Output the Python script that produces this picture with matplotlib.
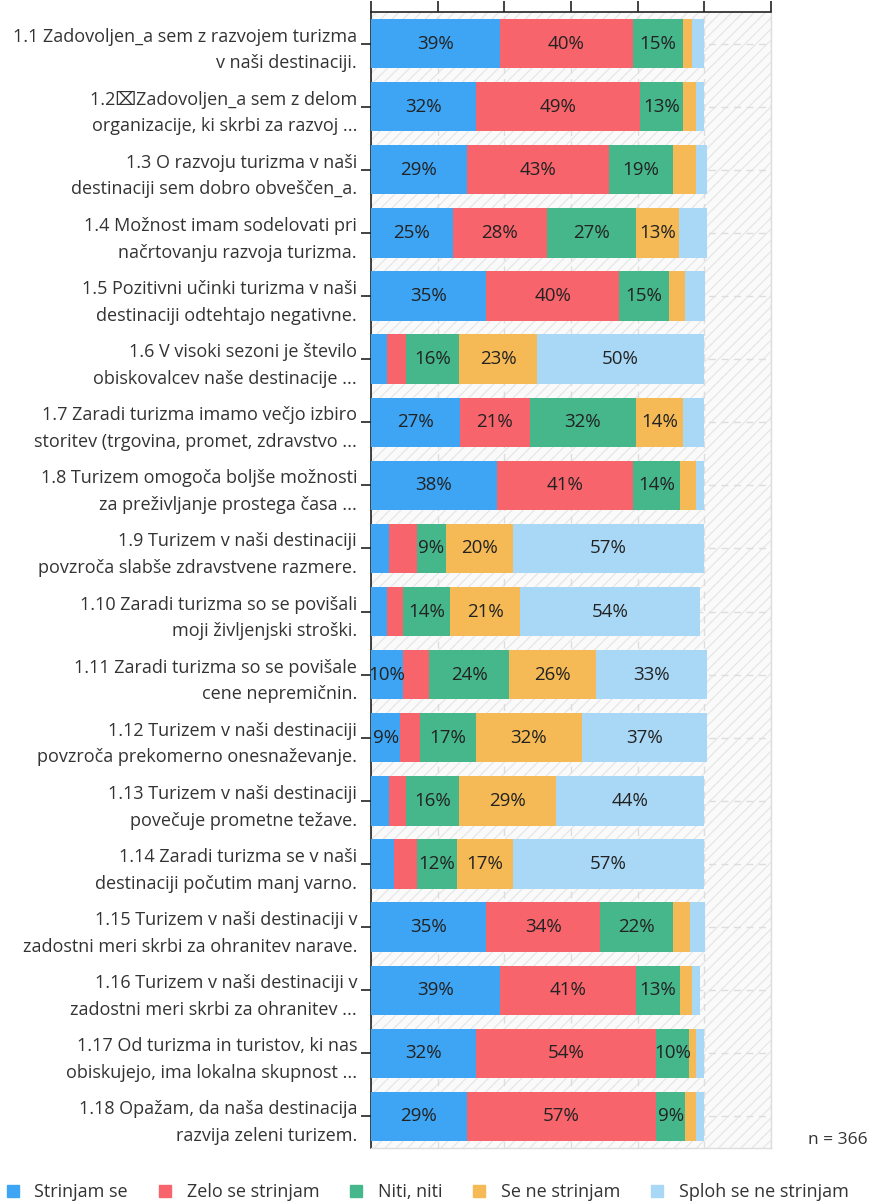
import matplotlib
matplotlib.use("Agg")
import matplotlib.pyplot as plt
from matplotlib.patches import Rectangle
from matplotlib.lines import Line2D
import numpy as np

plt.rcParams['font.family'] = ['Open Sans', 'DejaVu Sans']
plt.rcParams['hatch.linewidth'] = 0.8

categories = [
    "1.1 Zadovoljen_a sem z razvojem turizma\nv naši destinaciji.",
    "1.2\u2327Zadovoljen_a sem z delom\norganizacije, ki skrbi za razvoj ...",
    "1.3 O razvoju turizma v naši\ndestinaciji sem dobro obveščen_a.",
    "1.4 Možnost imam sodelovati pri\nnačrtovanju razvoja turizma.",
    "1.5 Pozitivni učinki turizma v naši\ndestinaciji odtehtajo negativne.",
    "1.6 V visoki sezoni je število\nobiskovalcev naše destinacije ...",
    "1.7 Zaradi turizma imamo večjo izbiro\nstoritev (trgovina, promet, zdravstvo ...",
    "1.8 Turizem omogoča boljše možnosti\nza preživljanje prostega časa ...",
    "1.9 Turizem v naši destinaciji\npovzroča slabše zdravstvene razmere.",
    "1.10 Zaradi turizma so se povišali\nmoji življenjski stroški.",
    "1.11 Zaradi turizma so se povišale\ncene nepremičnin.",
    "1.12 Turizem v naši destinaciji\npovzroča prekomerno onesnaževanje.",
    "1.13 Turizem v naši destinaciji\npovečuje prometne težave.",
    "1.14 Zaradi turizma se v naši\ndestinaciji počutim manj varno.",
    "1.15 Turizem v naši destinaciji v\nzadostni meri skrbi za ohranitev narave.",
    "1.16 Turizem v naši destinaciji v\nzadostni meri skrbi za ohranitev ...",
    "1.17 Od turizma in turistov, ki nas\nobiskujejo, ima lokalna skupnost ...",
    "1.18 Opažam, da naša destinacija\nrazvija zeleni turizem.",
]

series_names = ["Strinjam se", "Zelo se strinjam", "Niti, niti", "Se ne strinjam", "Sploh se ne strinjam"]

strinjam = [38.6, 31.5, 28.7, 24.6, 34.6, 4.7, 26.6, 37.8, 5.5, 4.7, 9.7, 8.8, 5.5, 6.8, 34.6, 38.6, 31.6, 28.7]
zelo = [40.0, 49.2, 42.8, 28.1, 39.9, 5.8, 21.2, 40.8, 8.3, 5.0, 7.8, 5.8, 5.0, 7.0, 34.2, 40.8, 54.0, 56.9]
niti = [15.0, 12.8, 19.0, 26.7, 14.9, 16.0, 31.6, 14.0, 8.7, 14.0, 24.0, 16.9, 16.0, 11.9, 21.8, 13.2, 9.9, 8.6]
se_ne = [2.8, 4.0, 7.0, 13.1, 4.9, 23.3, 14.2, 5.0, 20.2, 21.1, 26.0, 31.8, 29.0, 17.0, 5.0, 3.7, 2.1, 3.4]
sploh = [3.5, 2.3, 3.3, 8.3, 5.8, 50.0, 6.3, 2.2, 57.1, 53.9, 33.3, 37.4, 44.3, 57.1, 4.5, 2.4, 2.4, 2.2]

colors = ["#3ea5f4", "#f7646c", "#46b68b", "#f5ba55", "#a9d8f6"]

xticks = [0, 20, 40, 60, 80, 100, 120]
n_text = "n = 366"

fig = plt.figure(figsize=(8.70, 12.04), dpi=100)
ax = fig.add_axes([371/870, 1 - 1148/1204, 400/870, (1148 - 12)/1204])

series = [strinjam, zelo, niti, se_ne, sploh]
y = np.arange(len(categories))

ax.set_facecolor("#fafafa")
bg = Rectangle((0, 0), 1, 1, transform=ax.transAxes, facecolor="none",
               edgecolor="#e4e4e4", hatch="///", lw=0, zorder=0)
ax.add_patch(bg)

left = np.zeros(len(categories))
for vals, col in zip(series, colors):
    vals = np.array(vals)
    ax.barh(y, vals, left=left, height=0.78, color=col, zorder=3)
    for yi, (l, v) in enumerate(zip(left, vals)):
        if round(v) >= 9:
            ax.text(l + v / 2, yi, f"{round(v)}%", ha="center", va="center",
                    fontsize=13.5, color="#222222", zorder=4)
    left += vals

ax.set_xlim(0, 120)
ax.set_ylim(len(categories) - 0.5, -0.5)
ax.set_xticks(xticks)
ax.xaxis.tick_top()
ax.tick_params(axis="x", direction="out", length=8, width=1.2, labeltop=False, labelbottom=False, color="#222222")
ax.set_yticks(y)
ax.set_yticklabels(categories, fontsize=13, linespacing=1.62, color="#333333")
ax.tick_params(axis="y", direction="out", length=7, width=1.2, color="#222222", pad=3)

ax.grid(True, axis="both", color="#dddddd", linestyle=(0, (5, 4)), lw=1, zorder=1)
ax.set_axisbelow(True)

for s in ["top", "left"]:
    ax.spines[s].set_color("#222222")
    ax.spines[s].set_linewidth(1.2)
for s in ["right", "bottom"]:
    ax.spines[s].set_color("#dddddd")
    ax.spines[s].set_linewidth(1)

fig.text(868/870, 1 - 1140/1204, n_text, ha="right", va="center", fontsize=12.5, color="#333333")

handles = [Line2D([0], [0], marker="s", linestyle="none", markersize=8,
                  markerfacecolor=c, markeredgecolor=c) for c in colors]
fig.legend(handles, series_names, loc="lower center", bbox_to_anchor=(0.49, -0.011),
           ncol=5, frameon=False, fontsize=13, handletextpad=0.7, columnspacing=1.55,
           handlelength=1.0, labelcolor="#333333")

fig.savefig("out.png", dpi=100)
